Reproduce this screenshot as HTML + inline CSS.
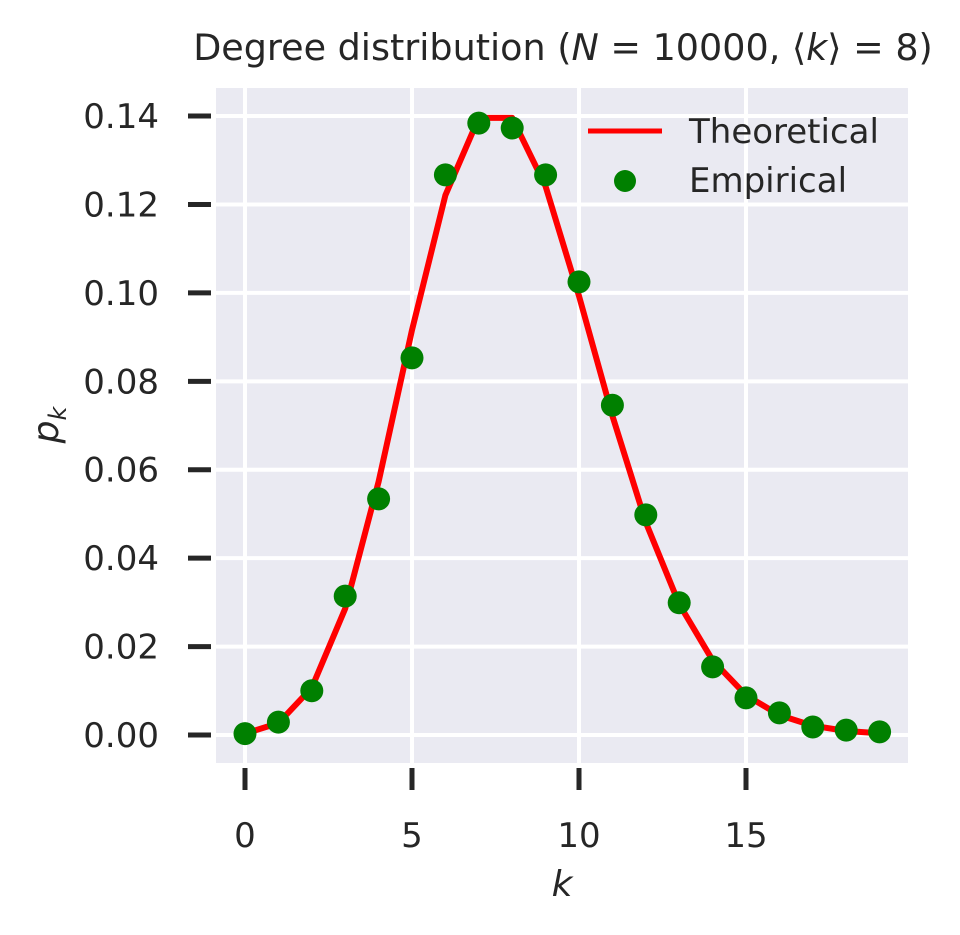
<!DOCTYPE html>
<html><head><meta charset="utf-8"><style>
html,body{margin:0;padding:0;background:#fff;}
svg{display:block;font-family:"DejaVu Sans","Liberation Sans",sans-serif;}
</style></head><body>
<svg id="chart" width="960" height="935" viewBox="0 0 960 935" xmlns="http://www.w3.org/2000/svg">
<text x="563" y="60" text-anchor="middle" font-size="36.5" fill="#262626">Degree distribution (<tspan font-style="italic">N</tspan> = 10000, ⟨<tspan font-style="italic">k</tspan>⟩ = 8)</text>
<rect x="216" y="88" width="692" height="675" fill="#eaeaf2"/>
<g id="grid"></g>
<g id="ticks"></g>
<g id="series"></g>
<text transform="translate(58,425) rotate(-90)" text-anchor="middle" font-size="36" font-style="italic" fill="#262626">p<tspan font-size="24" dy="8">k</tspan></text>
<text x="562" y="896" text-anchor="middle" font-size="36" font-style="italic" fill="#262626">k</text>
<g>
<line x1="588" y1="131" x2="662" y2="131" stroke="#ff0000" stroke-width="5"/>
<text x="689" y="143" font-size="34" fill="#262626">Theoretical</text>
<circle cx="625" cy="181" r="11" fill="#008000"/>
<text x="689" y="192" font-size="34" fill="#262626">Empirical</text>
</g>
</svg>
<script>
const kValues=[0,1,2,3,4,5,6,7,8,9,10,11,12,13,14,15,16,17,18,19];
const theoretical=[0.000335,0.00268,0.0107,0.0286,0.0573,0.0916,0.1221,0.1396,0.1396,0.1241,0.0993,0.0722,0.0481,0.0296,0.0169,0.0090,0.0045,0.0021,0.0009,0.0004];
const empirical=[0.0003,0.0029,0.0100,0.0314,0.0534,0.0853,0.1267,0.1384,0.1373,0.1267,0.1025,0.0746,0.0498,0.0299,0.0154,0.0084,0.0050,0.0018,0.0011,0.0007];
const xTicks=[0,5,10,15];
const yTicks=[0,0.02,0.04,0.06,0.08,0.10,0.12,0.14];
const yTickLabels=["0.00","0.02","0.04","0.06","0.08","0.10","0.12","0.14"];
const NS="http://www.w3.org/2000/svg";
function xs(v){return 245+v*33.4;}
function ys(v){return 735-v*4421;}
function mk(tag,attrs,parent){const e=document.createElementNS(NS,tag);for(const k in attrs)e.setAttribute(k,attrs[k]);parent.appendChild(e);return e;}
const grid=document.getElementById('grid'),ticks=document.getElementById('ticks'),series=document.getElementById('series');
xTicks.forEach(t=>{
 const g=mk('line',{x1:xs(t),x2:xs(t),y1:88,y2:763,stroke:'#fff','stroke-width':4},grid);
 
 
 const tk=mk('line',{x1:xs(t),x2:xs(t),y1:768,y2:790,stroke:'#262626','stroke-width':5},ticks);
 
 
 const tl=mk('text',{x:xs(t),y:847,'text-anchor':'middle','font-size':34,fill:'#262626'},ticks);
 tl.textContent=t;
 
 
});
yTicks.forEach((t,i)=>{
 const g=mk('line',{x1:216,x2:908,y1:ys(t),y2:ys(t),stroke:'#fff','stroke-width':4},grid);
 
 
 const tk=mk('line',{x1:188,x2:211,y1:ys(t),y2:ys(t),stroke:'#262626','stroke-width':5},ticks);
 
 
 const tl=mk('text',{x:159,y:ys(t)+12,'text-anchor':'end','font-size':34,fill:'#262626'},ticks);
 tl.textContent=yTickLabels[i];
 
 
});
const pts=kValues.map((k,i)=>xs(k)+','+ys(theoretical[i])).join(' ');
const line=mk('polyline',{points:pts,fill:'none',stroke:'#ff0000','stroke-width':6,'stroke-linejoin':'round'},series);


kValues.forEach((k,i)=>{
 const c=mk('circle',{cx:xs(k),cy:ys(empirical[i]),r:11.5,fill:'#008000'},series);
 
 
});
</script>
</body></html>
